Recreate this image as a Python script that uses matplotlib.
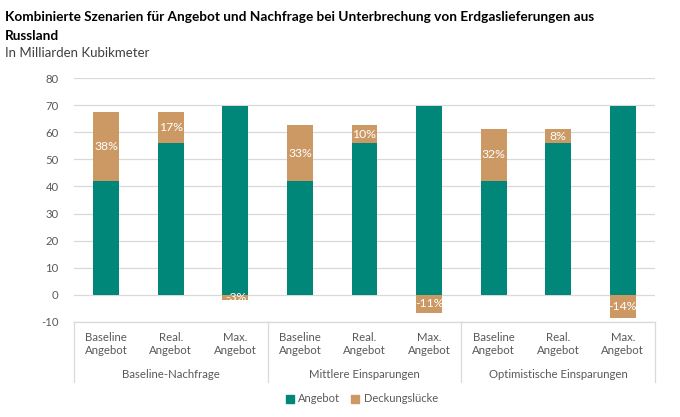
import matplotlib
matplotlib.use("Agg")
import matplotlib.pyplot as plt
from matplotlib.lines import Line2D
from matplotlib.patches import Patch

categories = ["Baseline\nAngebot", "Real.\nAngebot", "Max.\nAngebot"] * 3
groups = ["Baseline-Nachfrage", "Mittlere Einsparungen", "Optimistische Einsparungen"]
angebot = [42.0, 56.1, 69.7, 42.0, 56.1, 69.7, 42.0, 56.1, 69.7]
luecke = [25.6, 11.5, -2.0, 20.7, 6.6, -6.9, 19.4, 5.0, -8.6]
pct_labels = ["38%", "17%", "-3%", "33%", "10%", "-11%", "32%", "8%", "-14%"]
yticks = [-10, 0, 10, 20, 30, 40, 50, 60, 70, 80]

TEAL = "#00877A"
TAN = "#CC9965"
GRID = "#D9D9D9"
TXT = "#595959"
FONT = "Lato"

W, H = 680, 417
fig = plt.figure(figsize=(W / 100, H / 100), dpi=100)
plt.rcParams["font.family"] = [FONT, "DejaVu Sans"]

ax_l, ax_r, ax_top, ax_bot = 74, 655, 78.3, 321.7
ax = fig.add_axes([ax_l / W, 1 - ax_bot / H, (ax_r - ax_l) / W, (ax_bot - ax_top) / H])

x = list(range(len(categories)))
bw = 0.40
ax.bar(x, angebot, width=bw, color=TEAL, zorder=3)
bottoms = [a if l > 0 else 0 for a, l in zip(angebot, luecke)]
ax.bar(x, luecke, width=bw, bottom=bottoms, color=TAN, zorder=3)

for xi, b, l, lab in zip(x, bottoms, luecke, pct_labels):
    ax.text(xi, b + l / 2, lab, ha="center", va="center", color="white",
            fontsize=8.8, zorder=4)

ax.set_xlim(-0.5, len(categories) - 0.5)
ax.set_ylim(-10, 80)
ax.set_yticks(yticks)
ax.set_yticklabels([str(v) for v in yticks], color=TXT, fontsize=8.2)
ax.tick_params(axis="y", length=0, pad=11)
ax.tick_params(axis="x", length=0, labelbottom=False)
ax.grid(axis="y", color=GRID, linewidth=0.9, zorder=0)
for s in ["top", "right", "left"]:
    ax.spines[s].set_visible(False)
ax.spines["bottom"].set_color(GRID)
ax.spines["bottom"].set_linewidth(0.9)

def fy(py):
    return (ax_bot - py) / (ax_bot - ax_top)

tr = ax.get_xaxis_transform()
for xi, c in zip(x, categories):
    ax.text(xi, fy(344), c, transform=tr, ha="center", va="center",
            fontsize=8.2, color=TXT, linespacing=1.25)
for gi, g in enumerate(groups):
    ax.text(gi * 3 + 1, fy(374), g, transform=tr, ha="center", va="center",
            fontsize=8.2, color=TXT)
for bx in [-0.5, 2.5, 5.5, 8.5]:
    ax.add_line(Line2D([bx, bx], [0, fy(381.7)], transform=tr, color=GRID,
                       linewidth=0.9, clip_on=False))

handles = [Patch(color=TEAL, label="Angebot"), Patch(color=TAN, label="Deckungslücke")]
fig.legend(handles=handles, loc="center", bbox_to_anchor=(362 / W, 1 - 399 / H),
           ncol=2, frameon=False, fontsize=8, handlelength=0.7, handleheight=0.7,
           handletextpad=0.4, columnspacing=1.0, labelcolor=TXT)

fig.text(5 / W, 1 - 17 / H, "Kombinierte Szenarien für Angebot und Nachfrage bei Unterbrechung von Erdgaslieferungen aus",
         fontsize=9.8, fontweight="bold", color="black", va="center", ha="left")
fig.text(5 / W, 1 - 36 / H, "Russland", fontsize=9.8, fontweight="bold", color="black",
         va="center", ha="left")
fig.text(5 / W, 1 - 53 / H, "In Milliarden Kubikmeter", fontsize=9.5, color="#404040",
         va="center", ha="left")

fig.savefig("out.png", dpi=100)
